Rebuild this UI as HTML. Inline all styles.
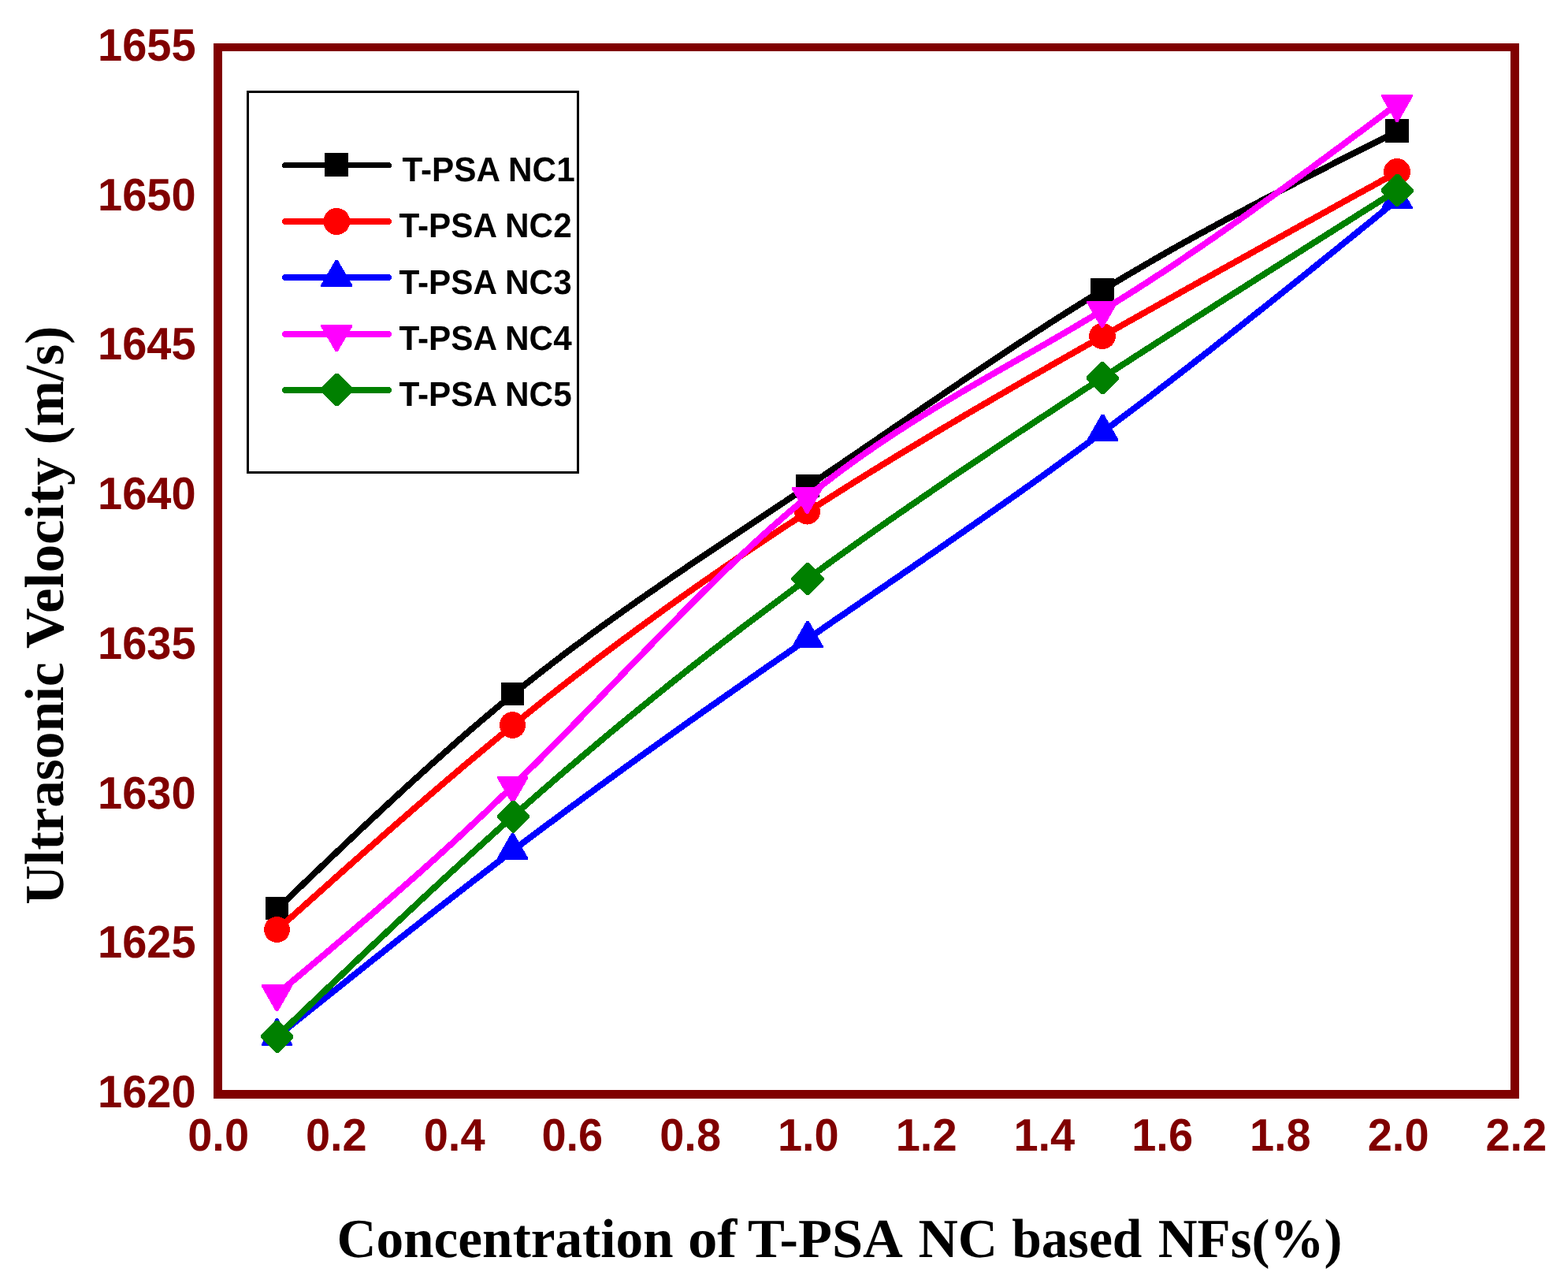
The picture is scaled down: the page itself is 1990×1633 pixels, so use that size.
<!DOCTYPE html>
<html lang="en">
<head>
<meta charset="utf-8">
<title>Ultrasonic Velocity vs Concentration of T-PSA NC based NFs</title>
<style>
html,body{margin:0;padding:0;background:#ffffff;overflow:hidden;}
body{width:1990px;height:1633px;}
svg{display:block;}
text{text-rendering:geometricPrecision;}
.tick{font-family:"Liberation Sans",sans-serif;font-weight:bold;font-size:56px;fill:#800000;}
.leg{font-family:"Liberation Sans",sans-serif;font-weight:bold;font-size:41.67px;fill:#000000;}
.ttl{font-family:"Liberation Serif",serif;font-weight:bold;font-size:70px;fill:#000000;}
</style>
</head>
<body>
<svg width="1990" height="1633" viewBox="0 0 1990 1633" role="img" aria-label="Ultrasonic velocity versus concentration of T-PSA NC based nanofluids">
<rect x="0" y="0" width="1990" height="1633" fill="#ffffff"/>
<!-- plot frame -->
<g shape-rendering="crispEdges" fill="#800000">
<rect x="271" y="55" width="1657" height="10"/>
<rect x="271" y="1383" width="1657" height="11"/>
<rect x="271" y="55" width="11" height="1339"/>
<rect x="1917" y="55" width="11" height="1339"/>
</g>
<!-- y axis tick labels -->
<g class="tick" text-anchor="end">
<text transform="translate(248.6,77) scale(1,1.035)">1655</text>
<text transform="translate(248.6,267) scale(1,1.035)">1650</text>
<text transform="translate(248.6,456) scale(1,1.035)">1645</text>
<text transform="translate(248.6,646) scale(1,1.035)">1640</text>
<text transform="translate(248.6,836) scale(1,1.035)">1635</text>
<text transform="translate(248.6,1026) scale(1,1.035)">1630</text>
<text transform="translate(248.6,1215) scale(1,1.035)">1625</text>
<text transform="translate(248.6,1405) scale(1,1.035)">1620</text>
</g>
<!-- x axis tick labels -->
<g class="tick" text-anchor="middle">
<text transform="translate(277.1,1460) scale(1,1.035)">0.0</text>
<text transform="translate(426.8,1460) scale(1,1.035)">0.2</text>
<text transform="translate(576.6,1460) scale(1,1.035)">0.4</text>
<text transform="translate(726.3,1460) scale(1,1.035)">0.6</text>
<text transform="translate(876.1,1460) scale(1,1.035)">0.8</text>
<text transform="translate(1025.8,1460) scale(1,1.035)">1.0</text>
<text transform="translate(1175.6,1460) scale(1,1.035)">1.2</text>
<text transform="translate(1325.3,1460) scale(1,1.035)">1.4</text>
<text transform="translate(1475.1,1460) scale(1,1.035)">1.6</text>
<text transform="translate(1624.8,1460) scale(1,1.035)">1.8</text>
<text transform="translate(1774.6,1460) scale(1,1.035)">2.0</text>
<text transform="translate(1924.3,1460) scale(1,1.035)">2.2</text>
</g>
<!-- axis titles -->
<text class="ttl" y="1595"><tspan x="427.4" textLength="427.2" lengthAdjust="spacingAndGlyphs">Concentration</tspan> <tspan x="872.9" textLength="62.4" lengthAdjust="spacingAndGlyphs">of</tspan> <tspan x="949.1" textLength="192.8" lengthAdjust="spacingAndGlyphs">T-PSA</tspan> <tspan x="1165.5" textLength="100.6" lengthAdjust="spacingAndGlyphs">NC</tspan> <tspan x="1284.3" textLength="165.1" lengthAdjust="spacingAndGlyphs">based</tspan> <tspan x="1469.8" textLength="233.6" lengthAdjust="spacingAndGlyphs">NFs(%)</tspan></text>
<text class="ttl" transform="translate(80.4,0) rotate(-90)"><tspan x="-1147.7" textLength="307.5" lengthAdjust="spacingAndGlyphs">Ultrasonic</tspan> <tspan x="-822.9" textLength="242.6" lengthAdjust="spacingAndGlyphs">Velocity</tspan> <tspan x="-564.2" textLength="150.5" lengthAdjust="spacingAndGlyphs">(m/s)</tspan></text>
<!-- data series -->
<g shape-rendering="crispEdges">
<path transform="translate(0.5,0.6)" d="M351.5,1152.6 L366.5,1138.3 L381.4,1123.9 L396.4,1109.6 L411.4,1095.3 L426.3,1081.1 L441.3,1066.9 L456.2,1052.8 L471.2,1038.8 L486.2,1024.8 L501.1,1011.0 L516.1,997.2 L531.1,983.6 L546.0,970.1 L561.0,956.8 L576.0,943.6 L590.9,930.5 L605.9,917.7 L620.9,905.0 L635.8,892.5 L650.8,880.2 L665.7,868.2 L680.7,856.3 L695.7,844.7 L710.6,833.2 L725.6,821.9 L740.6,810.8 L755.5,799.8 L770.5,789.0 L785.5,778.3 L800.4,767.7 L815.4,757.2 L830.4,746.9 L845.3,736.6 L860.3,726.4 L875.2,716.2 L890.2,706.2 L905.2,696.1 L920.1,686.2 L935.1,676.2 L950.1,666.2 L965.0,656.3 L980.0,646.3 L995.0,636.4 L1009.9,626.3 L1024.9,616.3 L1039.9,606.2 L1054.8,596.1 L1069.8,585.9 L1084.7,575.7 L1099.7,565.5 L1114.7,555.3 L1129.6,545.0 L1144.6,534.8 L1159.6,524.5 L1174.5,514.3 L1189.5,504.1 L1204.5,494.0 L1219.4,483.8 L1234.4,473.7 L1249.4,463.7 L1264.3,453.7 L1279.3,443.7 L1294.2,433.9 L1309.2,424.1 L1324.2,414.4 L1339.1,404.8 L1354.1,395.3 L1369.1,385.9 L1384.0,376.6 L1399.0,367.4 L1414.0,358.4 L1428.9,349.4 L1443.9,340.6 L1458.9,331.9 L1473.8,323.3 L1488.8,314.8 L1503.7,306.4 L1518.7,298.1 L1533.7,289.9 L1548.6,281.8 L1563.6,273.7 L1578.6,265.7 L1593.5,257.8 L1608.5,249.9 L1623.5,242.1 L1638.4,234.3 L1653.4,226.6 L1668.4,218.9 L1683.3,211.3 L1698.3,203.7 L1713.2,196.1 L1728.2,188.5 L1743.2,181.0 L1758.1,173.4 L1773.1,165.9" fill="none" stroke="#000000" stroke-width="8" stroke-linejoin="round" stroke-linecap="round"/>
<rect x="337" y="1138" width="29" height="29" fill="#000000"/>
<rect x="636" y="866" width="29" height="29" fill="#000000"/>
<rect x="1010" y="602" width="30" height="29" fill="#000000"/>
<rect x="1384" y="353" width="30" height="29" fill="#000000"/>
<rect x="1758" y="151" width="30" height="30" fill="#000000"/>
</g>
<g shape-rendering="crispEdges">
<path transform="translate(0.25,0.3)" d="M351.5,1179.5 L366.5,1166.1 L381.4,1152.8 L396.4,1139.4 L411.4,1126.1 L426.3,1112.7 L441.3,1099.4 L456.2,1086.2 L471.2,1073.0 L486.2,1059.8 L501.1,1046.7 L516.1,1033.7 L531.1,1020.7 L546.0,1007.8 L561.0,994.9 L576.0,982.2 L590.9,969.5 L605.9,957.0 L620.9,944.5 L635.8,932.2 L650.8,919.9 L665.7,907.8 L680.7,895.8 L695.7,883.9 L710.6,872.2 L725.6,860.5 L740.6,849.0 L755.5,837.5 L770.5,826.2 L785.5,815.0 L800.4,803.9 L815.4,792.9 L830.4,782.0 L845.3,771.2 L860.3,760.5 L875.2,749.9 L890.2,739.4 L905.2,729.0 L920.1,718.7 L935.1,708.4 L950.1,698.3 L965.0,688.3 L980.0,678.3 L995.0,668.5 L1009.9,658.7 L1024.9,649.0 L1039.9,639.4 L1054.8,629.9 L1069.8,620.4 L1084.7,611.0 L1099.7,601.7 L1114.7,592.5 L1129.6,583.3 L1144.6,574.2 L1159.6,565.2 L1174.5,556.2 L1189.5,547.2 L1204.5,538.4 L1219.4,529.5 L1234.4,520.7 L1249.4,512.0 L1264.3,503.3 L1279.3,494.6 L1294.2,486.0 L1309.2,477.4 L1324.2,468.9 L1339.1,460.3 L1354.1,451.8 L1369.1,443.3 L1384.0,434.9 L1399.0,426.4 L1414.0,418.0 L1428.9,409.5 L1443.9,401.1 L1458.9,392.7 L1473.8,384.3 L1488.8,376.0 L1503.7,367.6 L1518.7,359.2 L1533.7,350.9 L1548.6,342.5 L1563.6,334.2 L1578.6,325.9 L1593.5,317.6 L1608.5,309.2 L1623.5,300.9 L1638.4,292.6 L1653.4,284.3 L1668.4,276.1 L1683.3,267.8 L1698.3,259.5 L1713.2,251.2 L1728.2,242.9 L1743.2,234.7 L1758.1,226.4 L1773.1,218.1" fill="none" stroke="#ff0000" stroke-width="8" stroke-linejoin="round" stroke-linecap="round"/>
<ellipse cx="351.5" cy="1179.5" rx="16.5" ry="16.5" fill="#ff0000"/>
<ellipse cx="650.5" cy="920.0" rx="16.5" ry="17.0" fill="#ff0000"/>
<ellipse cx="1024.5" cy="649.0" rx="16.5" ry="16.5" fill="#ff0000"/>
<ellipse cx="1399.0" cy="426.5" rx="17.0" ry="16.5" fill="#ff0000"/>
<ellipse cx="1773.0" cy="218.0" rx="17.0" ry="17.0" fill="#ff0000"/>
</g>
<g shape-rendering="crispEdges">
<path transform="translate(0.0,0.2)" d="M351.5,1315.2 L366.5,1303.2 L381.4,1291.2 L396.4,1279.2 L411.4,1267.2 L426.3,1255.2 L441.3,1243.2 L456.2,1231.3 L471.2,1219.4 L486.2,1207.5 L501.1,1195.6 L516.1,1183.8 L531.1,1172.0 L546.0,1160.2 L561.0,1148.5 L576.0,1136.8 L590.9,1125.2 L605.9,1113.6 L620.9,1102.1 L635.8,1090.6 L650.8,1079.2 L665.7,1067.9 L680.7,1056.6 L695.7,1045.4 L710.6,1034.3 L725.6,1023.2 L740.6,1012.1 L755.5,1001.2 L770.5,990.2 L785.5,979.3 L800.4,968.5 L815.4,957.7 L830.4,947.0 L845.3,936.3 L860.3,925.6 L875.2,915.0 L890.2,904.4 L905.2,893.9 L920.1,883.4 L935.1,872.9 L950.1,862.4 L965.0,852.0 L980.0,841.6 L995.0,831.3 L1009.9,820.9 L1024.9,810.6 L1039.9,800.3 L1054.8,790.0 L1069.8,779.7 L1084.7,769.5 L1099.7,759.2 L1114.7,748.9 L1129.6,738.7 L1144.6,728.4 L1159.6,718.1 L1174.5,707.8 L1189.5,697.5 L1204.5,687.1 L1219.4,676.7 L1234.4,666.3 L1249.4,655.8 L1264.3,645.3 L1279.3,634.8 L1294.2,624.2 L1309.2,613.6 L1324.2,602.9 L1339.1,592.1 L1354.1,581.2 L1369.1,570.3 L1384.0,559.4 L1399.0,548.3 L1414.0,537.2 L1428.9,525.9 L1443.9,514.6 L1458.9,503.3 L1473.8,491.8 L1488.8,480.3 L1503.7,468.8 L1518.7,457.1 L1533.7,445.5 L1548.6,433.7 L1563.6,421.9 L1578.6,410.1 L1593.5,398.2 L1608.5,386.3 L1623.5,374.4 L1638.4,362.4 L1653.4,350.4 L1668.4,338.3 L1683.3,326.3 L1698.3,314.2 L1713.2,302.1 L1728.2,290.0 L1743.2,277.9 L1758.1,265.7 L1773.1,253.6" fill="none" stroke="#0000ff" stroke-width="8" stroke-linejoin="round" stroke-linecap="round"/>
<polygon points="350.0,1292.0 353.0,1292.0 371.0,1324.5 371.0,1327.0 332.0,1327.0 332.0,1324.5" fill="#0000ff"/>
<polygon points="649.1,1056.9 652.1,1056.9 670.1,1088.4 670.1,1090.9 631.1,1090.9 631.1,1088.4" fill="#0000ff"/>
<polygon points="1023.5,787.9 1026.5,787.9 1044.5,819.4 1044.5,821.9 1005.5,821.9 1005.5,819.4" fill="#0000ff"/>
<polygon points="1398.0,525.6 1401.0,525.6 1419.0,557.1 1419.0,559.6 1380.0,559.6 1380.0,557.1" fill="#0000ff"/>
<polygon points="1771.5,230.9 1774.5,230.9 1792.5,262.4 1792.5,264.9 1753.5,264.9 1753.5,262.4" fill="#0000ff"/>
</g>
<g shape-rendering="crispEdges">
<path transform="translate(0.5,0.6)" d="M351.5,1260.4 L366.5,1247.9 L381.4,1235.4 L396.4,1222.8 L411.4,1210.3 L426.3,1197.6 L441.3,1185.0 L456.2,1172.3 L471.2,1159.5 L486.2,1146.6 L501.1,1133.6 L516.1,1120.5 L531.1,1107.3 L546.0,1094.0 L561.0,1080.5 L576.0,1066.9 L590.9,1053.1 L605.9,1039.2 L620.9,1025.0 L635.8,1010.7 L650.8,996.2 L665.7,981.5 L680.7,966.6 L695.7,951.5 L710.6,936.3 L725.6,921.0 L740.6,905.6 L755.5,890.2 L770.5,874.7 L785.5,859.1 L800.4,843.6 L815.4,828.2 L830.4,812.8 L845.3,797.5 L860.3,782.3 L875.2,767.2 L890.2,752.3 L905.2,737.5 L920.1,723.0 L935.1,708.7 L950.1,694.7 L965.0,681.0 L980.0,667.5 L995.0,654.4 L1009.9,641.7 L1024.9,629.3 L1039.9,617.3 L1054.8,605.8 L1069.8,594.5 L1084.7,583.7 L1099.7,573.1 L1114.7,562.8 L1129.6,552.8 L1144.6,543.1 L1159.6,533.5 L1174.5,524.2 L1189.5,515.1 L1204.5,506.1 L1219.4,497.2 L1234.4,488.4 L1249.4,479.8 L1264.3,471.2 L1279.3,462.6 L1294.2,454.1 L1309.2,445.6 L1324.2,437.0 L1339.1,428.4 L1354.1,419.7 L1369.1,410.9 L1384.0,402.0 L1399.0,393.0 L1414.0,383.8 L1428.9,374.5 L1443.9,365.0 L1458.9,355.3 L1473.8,345.6 L1488.8,335.6 L1503.7,325.6 L1518.7,315.5 L1533.7,305.2 L1548.6,294.9 L1563.6,284.4 L1578.6,273.9 L1593.5,263.2 L1608.5,252.5 L1623.5,241.7 L1638.4,230.9 L1653.4,220.0 L1668.4,209.0 L1683.3,198.0 L1698.3,187.0 L1713.2,175.9 L1728.2,164.8 L1743.2,153.7 L1758.1,142.5 L1773.1,131.4" fill="none" stroke="#ff00ff" stroke-width="8" stroke-linejoin="round" stroke-linecap="round"/>
<polygon points="331.9,1249.1 370.9,1249.1 370.9,1251.6 352.9,1283.1 349.9,1283.1 331.9,1251.6" fill="#ff00ff"/>
<polygon points="631.1,985.0 670.1,985.0 670.1,987.5 652.1,1019.0 649.1,1019.0 631.1,987.5" fill="#ff00ff"/>
<polygon points="1004.9,618.0 1043.9,618.0 1043.9,620.5 1025.9,652.0 1022.9,652.0 1004.9,620.5" fill="#ff00ff"/>
<polygon points="1379.3,381.7 1418.3,381.7 1418.3,384.2 1400.3,415.7 1397.3,415.7 1379.3,384.2" fill="#ff00ff"/>
<polygon points="1771.5,155.0 1774.5,155.0 1793.0,122.5 1793.0,120.0 1753.0,120.0 1753.0,122.5" fill="#ff00ff"/>
</g>
<g shape-rendering="crispEdges">
<path transform="translate(0.0,-0.2)" d="M351.5,1315.4 L366.5,1301.1 L381.4,1286.8 L396.4,1272.5 L411.4,1258.2 L426.3,1244.0 L441.3,1229.8 L456.2,1215.6 L471.2,1201.4 L486.2,1187.3 L501.1,1173.2 L516.1,1159.2 L531.1,1145.2 L546.0,1131.3 L561.0,1117.5 L576.0,1103.7 L590.9,1090.1 L605.9,1076.5 L620.9,1063.0 L635.8,1049.5 L650.8,1036.2 L665.7,1023.0 L680.7,1009.9 L695.7,996.9 L710.6,984.0 L725.6,971.2 L740.6,958.5 L755.5,945.9 L770.5,933.3 L785.5,920.9 L800.4,908.6 L815.4,896.4 L830.4,884.2 L845.3,872.2 L860.3,860.2 L875.2,848.4 L890.2,836.6 L905.2,824.9 L920.1,813.4 L935.1,801.8 L950.1,790.4 L965.0,779.1 L980.0,767.9 L995.0,756.7 L1009.9,745.6 L1024.9,734.6 L1039.9,723.7 L1054.8,712.8 L1069.8,702.1 L1084.7,691.4 L1099.7,680.8 L1114.7,670.2 L1129.6,659.7 L1144.6,649.3 L1159.6,639.0 L1174.5,628.7 L1189.5,618.4 L1204.5,608.2 L1219.4,598.1 L1234.4,588.0 L1249.4,578.0 L1264.3,568.0 L1279.3,558.0 L1294.2,548.1 L1309.2,538.2 L1324.2,528.4 L1339.1,518.6 L1354.1,508.8 L1369.1,499.0 L1384.0,489.3 L1399.0,479.6 L1414.0,469.9 L1428.9,460.3 L1443.9,450.6 L1458.9,441.0 L1473.8,431.4 L1488.8,421.8 L1503.7,412.2 L1518.7,402.6 L1533.7,393.1 L1548.6,383.5 L1563.6,374.0 L1578.6,364.5 L1593.5,355.0 L1608.5,345.5 L1623.5,336.0 L1638.4,326.6 L1653.4,317.1 L1668.4,307.6 L1683.3,298.2 L1698.3,288.7 L1713.2,279.3 L1728.2,269.8 L1743.2,260.4 L1758.1,250.9 L1773.1,241.5" fill="none" stroke="#008000" stroke-width="8" stroke-linejoin="round" stroke-linecap="round"/>
<polygon points="350.1,1294.8 353.1,1294.8 372.2,1313.9 372.2,1316.9 353.1,1336.0 350.1,1336.0 331.0,1316.9 331.0,1313.9" fill="#008000"/>
<polygon points="650.0,1015.7 653.0,1015.7 672.1,1034.8 672.1,1037.8 653.0,1056.9 650.0,1056.9 630.9,1037.8 630.9,1034.8" fill="#008000"/>
<polygon points="1023.4,714.0 1026.4,714.0 1045.5,733.1 1045.5,736.1 1026.4,755.2 1023.4,755.2 1004.3,736.1 1004.3,733.1" fill="#008000"/>
<polygon points="1397.9,459.0 1400.9,459.0 1420.0,478.1 1420.0,481.1 1400.9,500.2 1397.9,500.2 1378.8,481.1 1378.8,478.1" fill="#008000"/>
<polygon points="1771.9,220.9 1774.9,220.9 1794.0,240.0 1794.0,243.0 1774.9,262.1 1771.9,262.1 1752.8,243.0 1752.8,240.0" fill="#008000"/>
</g>
<!-- legend -->
<g shape-rendering="crispEdges">
<rect x="314.5" y="116.5" width="419" height="483" fill="#ffffff" stroke="#000000" stroke-width="3"/>
<line x1="361.5" y1="209.5" x2="493.5" y2="209.5" stroke="#000000" stroke-width="7" stroke-linecap="round"/>
<rect x="412.0" y="194.0" width="30" height="30" fill="#000000"/>
<line x1="362.0" y1="280.9" x2="493.0" y2="280.9" stroke="#ff0000" stroke-width="8" stroke-linecap="round"/>
<circle cx="427.3" cy="281.0" r="17.0" fill="#ff0000"/>
<line x1="362.0" y1="352.0" x2="493.0" y2="352.0" stroke="#0000ff" stroke-width="8" stroke-linecap="round"/>
<polygon points="425.7,330.0 428.7,330.0 447.2,361.5 447.2,364.0 407.2,364.0 407.2,361.5" fill="#0000ff"/>
<line x1="362.0" y1="424.0" x2="493.0" y2="424.0" stroke="#ff00ff" stroke-width="8" stroke-linecap="round"/>
<polygon points="407.2,412.0 447.2,412.0 447.2,414.5 428.7,446.0 425.7,446.0 407.2,414.5" fill="#ff00ff"/>
<line x1="362.0" y1="494.9" x2="493.0" y2="494.9" stroke="#008000" stroke-width="8" stroke-linecap="round"/>
<polygon points="426.0,473.9 429.0,473.9 448.1,493.0 448.1,496.0 429.0,515.1 426.0,515.1 406.9,496.0 406.9,493.0" fill="#008000"/>
</g>
<g class="leg">
<text transform="translate(510.4,230) scale(1.015,1.045)">T-PSA NC1</text>
<text transform="translate(506.4,301) scale(1.015,1.045)">T-PSA NC2</text>
<text transform="translate(506.4,373) scale(1.015,1.045)">T-PSA NC3</text>
<text transform="translate(506.4,444) scale(1.015,1.045)">T-PSA NC4</text>
<text transform="translate(506.4,515) scale(1.015,1.045)">T-PSA NC5</text>
</g>
</svg>
</body>
</html>
